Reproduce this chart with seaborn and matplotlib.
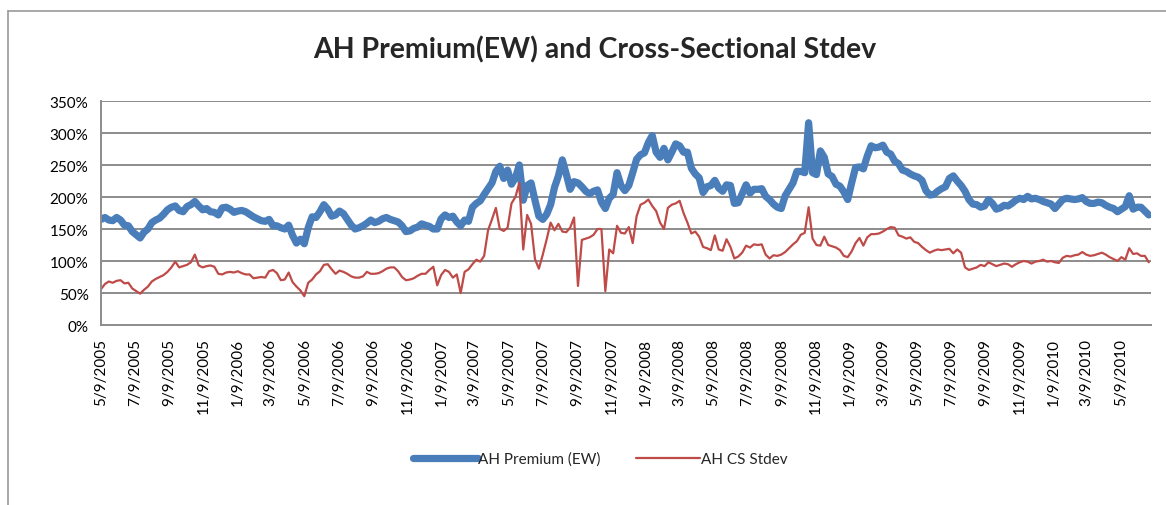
import matplotlib
matplotlib.use('Agg')
import matplotlib.pyplot as plt
from matplotlib.lines import Line2D
import seaborn as sns
import pandas as pd

# ─── Data (weekly readings, % values) ────────────────────────────────────────
START_DATE = "2005-05-09"

ah_premium_ew = [
    # May 2005 - Mar 2006
    165, 168, 164, 163, 168, 164, 156, 155, 146, 141, 136, 145, 150, 160, 164,
    167, 173, 180, 184, 186, 179, 177, 185, 188, 193, 186, 180, 182, 177, 176,
    172, 183, 184, 181, 176, 178, 179, 177, 173, 169, 166, 163, 162, 165, 155,
    # Mar 2006 - Jan 2007
    155, 152, 150, 156, 140, 128, 134, 127, 152, 169, 168, 177, 188, 181, 170,
    172, 178, 174, 165, 156, 150, 152, 155, 159, 164, 160, 162, 166, 168, 165,
    163, 161, 155, 146, 147, 151, 153, 158, 156, 154, 150, 150, 166, 172,
    # Jan 2007 - Nov 2007
    168, 170, 161, 155, 164, 162, 184, 190, 194, 204, 213, 222, 240, 248, 229,
    242, 220, 230, 250, 195, 218, 222, 195, 170, 165, 173, 188, 215, 233, 258,
    236, 212, 224, 222, 216, 209, 205, 209, 211, 192, 182, 198, 204, 238, 218,
    # Dec 2007 - Oct 2008
    210, 218, 238, 259, 266, 269, 285, 296, 270, 262, 276, 258, 270, 283, 280,
    270, 270, 245, 236, 230, 207, 216, 218, 226, 214, 209, 219, 218, 190, 191,
    205, 219, 206, 212, 212, 213, 201, 196, 189, 184, 182, 202, 212, 222, 240,
    # Oct 2008 - Aug 2009
    240, 238, 316, 238, 235, 272, 262, 236, 232, 220, 217, 208, 196, 222, 246,
    247, 244, 264, 280, 277, 278, 281, 270, 267, 256, 252, 242, 240, 236, 233,
    231, 226, 210, 203, 204, 209, 213, 216, 229, 233, 225, 218, 209, 196,
    # Aug 2009 - Jun 2010
    189, 188, 184, 186, 196, 190, 181, 183, 187, 186, 190, 195, 198, 196, 201,
    197, 198, 196, 193, 191, 189, 182, 189, 196, 198, 197, 196, 197, 199, 193,
    190, 190, 192, 191, 187, 184, 182, 177, 181, 185, 202, 181, 184, 184, 178,
    172,
]

ah_cs_stdev = [
    # May 2005 - Mar 2006
    56, 64, 68, 66, 69, 70, 65, 66, 57, 53, 49, 55, 60, 68, 72,
    75, 78, 83, 90, 99, 90, 92, 94, 98, 110, 93, 90, 92, 93, 91,
    80, 79, 82, 83, 82, 84, 81, 79, 79, 73, 74, 75, 74, 84, 86,
    # Mar 2006 - Jan 2007
    81, 70, 71, 82, 67, 60, 54, 45, 66, 71, 79, 84, 94, 95, 87,
    80, 85, 83, 80, 76, 74, 74, 76, 83, 80, 80, 81, 84, 88, 90,
    90, 84, 75, 70, 71, 73, 77, 80, 80, 86, 91, 62, 78, 86,
    # Jan 2007 - Nov 2007
    83, 74, 79, 50, 83, 87, 95, 102, 99, 108, 148, 165, 183, 150, 147,
    152, 190, 200, 222, 118, 172, 158, 103, 88, 110, 134, 160, 148, 158, 146,
    145, 152, 168, 61, 133, 135, 137, 141, 150, 150, 53, 118, 112, 155, 144,
    # Dec 2007 - Oct 2008
    143, 153, 128, 170, 188, 191, 196, 186, 178, 160, 150, 183, 188, 190, 194,
    175, 160, 143, 146, 138, 122, 120, 117, 140, 118, 116, 134, 122, 104, 107,
    113, 124, 121, 126, 125, 126, 110, 104, 109, 108, 110, 114, 120, 126, 131,
    # Oct 2008 - Aug 2009
    141, 144, 184, 135, 125, 124, 138, 125, 123, 121, 117, 108, 106, 115, 128,
    136, 124, 137, 142, 142, 143, 146, 150, 153, 152, 140, 138, 135, 137, 130,
    128, 122, 117, 113, 116, 118, 117, 118, 119, 112, 118, 113, 90, 86,
    # Aug 2009 - Jun 2010
    88, 90, 94, 92, 98, 95, 92, 94, 96, 95, 91, 95, 98, 100, 99,
    96, 99, 100, 102, 99, 100, 98, 97, 105, 108, 107, 109, 110, 114, 110,
    108, 109, 111, 113, 110, 106, 103, 100, 106, 102, 120, 111, 112, 108, 108,
    98,
]

SERIES_NAMES = ["AH Premium (EW)", "AH CS Stdev"]
TITLE = "AH Premium(EW) and Cross-Sectional Stdev"
Y_TICKS = [0, 50, 100, 150, 200, 250, 300, 350]

BLUE = "#4a7ebb"
RED = "#be4b48"
GRID = "#8c8c8c"

# ─── Frame ───────────────────────────────────────────────────────────────────
dates = pd.date_range(START_DATE, periods=len(ah_premium_ew), freq="7D")
df = pd.DataFrame({
    "date": list(dates) * 2,
    "value": ah_premium_ew + ah_cs_stdev,
    "series": [SERIES_NAMES[0]] * len(dates) + [SERIES_NAMES[1]] * len(dates),
})

sns.set_style("white")
plt.rcParams['font.family'] = ['Lato', 'DejaVu Sans']

fig = plt.figure(figsize=(11.66, 5.06), dpi=100)
ax = fig.add_axes([101 / 1166, 1 - 326 / 506, (1151 - 101) / 1166, (326 - 102) / 506])

sns.lineplot(data=df, x="date", y="value", hue="series", size="series",
             sizes={SERIES_NAMES[0]: 5.2, SERIES_NAMES[1]: 1.6},
             palette={SERIES_NAMES[0]: BLUE, SERIES_NAMES[1]: RED},
             ax=ax, legend=False, solid_capstyle="round", solid_joinstyle="round")

# ─── Axes ────────────────────────────────────────────────────────────────────
start = pd.Timestamp(START_DATE)
ax.set_xlim(start, start + pd.Timedelta(days=1880))
ax.set_ylim(0, 350)
ax.set_yticks(Y_TICKS)
ax.set_yticklabels([f"{v}%" for v in Y_TICKS], fontsize=11)

tick_dates = pd.date_range(START_DATE, "2010-05-09", freq=pd.DateOffset(months=2))
ax.set_xticks(tick_dates)
ax.set_xticklabels([f"{d.month}/{d.day}/{d.year}" for d in tick_dates],
                   rotation=90, fontsize=11)

for v in Y_TICKS[1:]:
    ax.axhline(v, color=GRID, lw=1.4, zorder=0)

for s in ["top", "right"]:
    ax.spines[s].set_visible(False)
for s in ["left", "bottom"]:
    ax.spines[s].set_color(GRID)
    ax.spines[s].set_linewidth(1.4)
ax.tick_params(axis="both", direction="out", length=5, width=1.2, color=GRID,
               labelcolor="black", pad=4)
ax.set_xlabel("")
ax.set_ylabel("")

fig.text(0.51, 1 - 50 / 506, TITLE, ha="center", va="center",
         fontsize=20.5, fontweight="bold")

# legend
handles = [Line2D([], [], color=BLUE, lw=5.2, solid_capstyle="round"),
           Line2D([], [], color=RED, lw=1.6)]
fig.legend(handles, SERIES_NAMES, loc="center", ncol=2, frameon=False,
           bbox_to_anchor=(0.515, 1 - 460 / 506), fontsize=11,
           handlelength=4.2, columnspacing=2.3, handletextpad=0.05)

# chart border (top and left edges only, the rest runs off the picture)
bx, by = 8 / 1166, 1 - 12 / 506
fig.add_artist(Line2D([bx, 1.0], [by, by], transform=fig.transFigure,
                      color="#9a9a9a", lw=1.2))
fig.add_artist(Line2D([bx, bx], [0.0, by], transform=fig.transFigure,
                      color="#9a9a9a", lw=1.2))

fig.savefig("out.png", dpi=100)
